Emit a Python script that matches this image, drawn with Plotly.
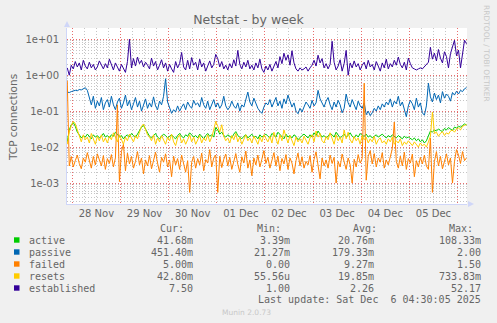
import pandas as pd
import plotly.graph_objects as go

# ---- data: hourly samples, Nov 27 21:30 .. Dec 6 04:30 ----
times = pd.date_range("2025-11-27 21:30", periods=200, freq="h")

series_names = ["active", "passive", "failed", "resets", "established"]
series_colors = ["#00CC00", "#0066B3", "#FF8000", "#FFCC00", "#330099"]

# values in milli-connections (m) for the small series
active_m = [
    14, 30, 42, 48, 38, 26, 22, 18, 21, 19, 23, 20, 17, 22, 19, 21, 18, 20, 24, 19,
    21, 18, 22, 20, 26, 23, 19, 21, 17, 20, 22, 19, 24, 21, 19, 23, 28, 36, 40, 31,
    24, 20, 18, 21, 24, 19, 17, 20, 23, 21, 18, 20, 22, 19, 17, 21, 24, 20, 18, 22,
    20, 25, 22, 19, 21, 18, 23, 20, 17, 21, 24, 20, 22, 19, 35, 30, 23, 26, 21, 19,
    22, 20, 18, 23, 27, 21, 19, 17, 20, 22, 18, 21, 23, 19, 20, 17, 22, 19, 21, 23,
    20, 18, 24, 21, 19, 26, 22, 20, 17, 23, 19, 21, 18, 22, 20, 16, 19, 21, 23, 20,
    18, 22, 19, 25, 21, 28, 23, 19, 21, 18, 20, 24, 22, 19, 26, 21, 18, 20, 23, 19,
    21, 25, 20, 18, 22, 19, 24, 21, 20, 23, 19, 21, 18, 20, 22, 19, 21, 23, 20, 18,
    21, 19, 22, 20, 18, 21, 19, 17, 20, 18, 19, 17, 16, 18, 15, 17, 14, 16, 13, 15,
    22, 28, 26, 30, 28, 32, 29, 27, 33, 30, 35, 32, 29, 36, 34, 38, 36, 40, 44, 41.68,
]

passive_m = [
    340, 330, 350, 360, 380, 370, 400, 390, 420, 450, 380, 230, 150, 260, 120, 190, 140, 240, 110, 170,
    210, 130, 260, 150, 110, 180, 230, 120, 170, 280, 140, 200, 110, 160, 240, 130, 190, 100, 150, 220,
    120, 170, 130, 250, 140, 110, 190, 150, 260, 800, 180, 120, 87, 110, 95, 140, 100, 130, 160, 110,
    180, 140, 120, 200, 150, 170, 130, 240, 150, 120, 190, 110, 160, 210, 130, 170, 120, 150, 260, 140,
    110, 130, 190, 140, 120, 170, 100, 150, 130, 210, 340, 180, 140, 230, 160, 120, 100, 87, 130, 170,
    150, 210, 130, 180, 240, 140, 190, 120, 220, 160, 280, 190, 130, 170, 100, 85, 120, 95, 140, 180,
    150, 120, 200, 140, 170, 380, 220, 160, 130, 190, 240, 150, 110, 180, 130, 200, 150, 90, 120, 300,
    170, 130, 210, 150, 110, 190, 140, 120, 170, 80, 100, 75, 90, 120, 100, 140, 110, 160, 130, 180,
    150, 220, 130, 190, 160, 260, 140, 180, 120, 70, 140, 200, 160, 110, 230, 130, 170, 90, 77, 140,
    600, 250, 180, 320, 210, 280, 170, 350, 230, 300, 260, 190, 330, 280, 360, 300, 380, 350, 420, 451.4,
]

failed_m = [
    700, 3.0, 5.5, 2.8, 4.2, 6.0, 3.5, 2.5, 5.0, 3.8, 7.0, 4.0, 2.6, 5.5, 3.2, 6.5, 4.5, 3.0, 5.8, 2.4,
    4.8, 3.5, 6.2, 2.8, 5.0, 150, 1.1, 7.5, 12.0, 2.2, 6.8, 3.4, 5.5, 2.6, 4.0, 7.5, 3.2, 5.0, 1.8, 4.4,
    3.0, 5.8, 2.5, 4.6, 7.2, 3.6, 2.0, 5.2, 3.8, 6.5, 2.8, 4.4, 1.5, 5.6, 3.2, 4.8, 2.4, 6.0, 3.5, 2.0,
    4.2, 0.55, 3.8, 5.5, 2.6, 4.8, 3.2, 6.8, 2.2, 4.5, 3.6, 8.5, 2.8, 5.0, 6.0, 0.55, 5.6, 2.7, 4.6, 6.4,
    3.0, 5.2, 2.4, 4.0, 6.6, 3.3, 2.0, 5.4, 3.6, 7.8, 2.6, 4.4, 1.6, 5.0, 3.2, 6.0, 2.8, 4.6, 8.0, 3.5,
    5.2, 2.6, 4.4, 7.0, 3.0, 5.6, 2.2, 4.8, 3.4, 6.2, 2.4, 5.0, 3.6, 1.8, 4.2, 6.8, 3.0, 5.4, 2.6, 4.0,
    3.2, 5.8, 2.0, 4.6, 7.4, 3.4, 1.3, 5.0, 3.0, 4.4, 2.6, 6.0, 3.5, 5.2, 1.0, 4.0, 2.8, 6.4, 3.6, 2.4,
    5.0, 3.2, 1.0, 4.6, 2.8, 6.2, 3.6, 4.8, 600, 1.2, 5.5, 8.0, 3.4, 6.6, 2.8, 5.0, 3.8, 7.0, 2.6, 4.4,
    3.2, 6.0, 9.0, 50, 4.0, 2.6, 5.6, 3.0, 7.2, 2.4, 4.8, 3.6, 6.4, 1.5, 4.2, 2.8, 5.2, 3.4, 6.0, 3.0,
    2.4, 18, 0.55, 4.0, 7.5, 3.0, 5.5, 2.5, 4.5, 6.5, 3.2, 5.0, 1.0, 4.0, 8.5, 6.0, 3.5, 7.5, 4.2, 5.0,
]

resets_m = [
    12, 26, 40, 52, 45, 30, 18, 14, 22, 16, 19, 13, 24, 17, 12, 20, 15, 22, 14, 18,
    13, 20, 16, 25, 19, 14, 22, 17, 12, 19, 15, 23, 18, 14, 21, 17, 26, 38, 44, 30,
    22, 19, 15, 22, 12, 18, 14, 21, 16, 12, 19, 15, 23, 14, 11, 18, 22, 13, 17, 12,
    16, 22, 14, 19, 12, 17, 21, 13, 18, 15, 22, 14, 19, 30, 52, 38, 26, 42, 20, 15,
    18, 13, 21, 16, 24, 14, 19, 12, 17, 22, 15, 18, 13, 20, 16, 12, 19, 14, 22, 17,
    14, 20, 13, 26, 17, 12, 22, 15, 30, 18, 13, 21, 16, 11, 19, 14, 17, 13, 20, 15,
    12, 18, 22, 14, 28, 19, 24, 15, 13, 20, 16, 25, 18, 12, 22, 15, 19, 13, 30, 17,
    26, 16, 13, 20, 15, 18, 12, 21, 16, 19, 13, 17, 14, 20, 12, 16, 18, 13, 15, 12,
    17, 14, 19, 12, 15, 13, 17, 11, 14, 12, 15, 13, 11, 14, 12, 10, 13, 11, 12, 10,
    14, 20, 95, 24, 26, 20, 24, 27, 21, 25, 23, 28, 30, 26, 32, 34, 30, 38, 40, 42.8,
]

# established connections, plain units
established = [
    1.6, 1.0, 1.9, 1.5, 2.4, 1.7, 2.2, 1.4, 2.6, 1.8, 1.5, 2.3, 1.6, 2.0, 1.4, 1.7, 2.5, 1.9, 1.5, 2.1,
    1.6, 2.8, 1.9, 1.4, 2.2, 1.7, 1.3, 2.0, 1.5, 1.2, 2.4, 10.0, 1.6, 2.9, 1.8, 3.2, 2.1, 2.6, 1.7, 2.3,
    1.9, 1.5, 3.0, 1.8, 2.4, 1.4, 1.9, 2.7, 1.6, 2.2, 1.3, 2.0, 1.5, 1.2, 2.4, 1.6, 2.1, 4.3, 1.7, 1.4,
    2.6, 1.5, 3.1, 1.9, 2.3, 1.4, 2.8, 1.7, 2.2, 1.3, 1.8, 2.5, 1.6, 2.0, 3.8, 2.9, 1.7, 2.4, 1.5, 1.9,
    1.4, 2.1, 1.6, 2.7, 1.8, 4.9, 2.0, 1.5, 2.3, 1.7, 2.6, 1.5, 1.9, 1.4, 2.2, 1.6, 2.8, 1.5, 1.2, 1.8,
    1.4, 2.0, 1.3, 1.7, 2.4, 1.6, 3.3, 2.1, 4.1, 2.6, 3.7, 1.9, 4.8, 2.2, 1.5, 1.3, 1.6, 1.4, 1.5, 1.7,
    1.3, 1.6, 1.9, 2.6, 1.8, 3.6, 2.2, 2.9, 1.6, 2.1, 1.5, 2.0, 8.8, 2.3, 1.4, 1.8, 2.7, 1.3, 2.1, 4.9,
    1.0, 2.2, 1.6, 2.5, 1.7, 2.1, 1.4, 1.9, 2.3, 1.5, 2.6, 1.7, 2.0, 1.4, 2.4, 1.8, 1.3, 2.2, 1.6, 2.8,
    1.5, 2.1, 1.7, 2.6, 1.9, 3.2, 2.0, 1.6, 2.3, 1.4, 3.0, 2.1, 1.6, 1.5, 1.4, 1.5, 1.6, 1.5, 1.7, 1.9,
    2.3, 6.0, 2.8, 4.1, 2.5, 5.2, 3.0, 2.2, 4.5, 3.3, 1.6, 4.0, 6.5, 9.4, 3.5, 5.0, 1.6, 4.6, 9.4, 7.5,
]

# legend statistics text
min_txt = ["3.39m", "21.27m", "0.00", "55.56u", "1.00"]
avg_txt = ["20.76m", "179.33m", "9.27m", "19.85m", "2.26"]
max_txt = ["108.33m", "2.00", "1.50", "733.83m", "52.17"]
last_update = "Last update: Sat Dec\u00a0\u00a06 04:30:05 2025"

y_tick_vals = [1e-3, 1e-2, 1e-1, 1e0, 1e1]
y_tick_text = ["1e-03", "1e-02", "1e-01", "1e+00", "1e+01"]

values = [
    [v / 1000 for v in active_m],
    [v / 1000 for v in passive_m],
    [v / 1000 for v in failed_m],
    [v / 1000 for v in resets_m],
    list(established),
]
for v in values:
    assert len(v) == len(times)


def si(v):
    """Munin-style value with SI suffix."""
    if v == 0:
        return "0.00"
    for f, s in ((1.0, ""), (1e-3, "m"), (1e-6, "u")):
        if abs(v) >= f:
            return f"{v / f:.2f}{s}"
    return f"{v:.2f}"


cur_txt = [si(v[-1]) for v in values]

# ---- geometry (pixels) ----
W, H = 497, 323
L, R, T, B = 67, 467, 28, 204


def px(x):
    return (x - L) / (R - L)


def py(y):
    return (B - y) / (B - T)


FONT = "#666666"
AXIS = "#CFD6F8"
GRID = "rgba(150,150,150,0.55)"
MGRID = "rgba(225,60,60,0.75)"
DASH = "1px,2px"

fig = go.Figure()
for name, color, v in zip(series_names, series_colors, values):
    fig.add_trace(go.Scatter(
        x=times, y=v, mode="lines", name=name,
        line=dict(color=color, width=1), hoverinfo="skip", showlegend=False,
    ))

minor_log = [k * 10.0 ** e for e in range(-4, 2) for k in range(2, 10)]

fig.update_layout(
    width=W, height=H,
    margin=dict(l=L, r=W - R, t=T, b=H - B, pad=0),
    paper_bgcolor="#F0F0F0",
    plot_bgcolor="#FFFFFF",
    font=dict(family="DejaVu Sans", color=FONT, size=10),
    title=dict(text="Netstat - by week", x=0.5, xref="container", xanchor="center",
               y=1 - 20 / H, yref="container", yanchor="middle",
               font=dict(size=12.5, color=FONT, family="DejaVu Sans")),
    xaxis=dict(
        type="date",
        range=["2025-11-27 21:22", "2025-12-06 04:44"],
        tick0="2025-11-28", dtick=86400000, tickformat="%d %b",
        ticklabelmode="period",
        showgrid=True, gridcolor=MGRID, griddash=DASH, gridwidth=1,
        minor=dict(tick0="2025-11-28", dtick=21600000, showgrid=True,
                   gridcolor=GRID, griddash=DASH, gridwidth=1),
        showline=True, linecolor=AXIS, linewidth=1, zeroline=False,
        ticks="", tickfont=dict(size=10, color=FONT),
    ),
    yaxis=dict(
        type="log",
        range=[-3.583, 1.314],
        tickmode="array", tickvals=y_tick_vals, ticktext=y_tick_text,
        showgrid=True, gridcolor=MGRID, griddash=DASH, gridwidth=1,
        minor=dict(tickmode="array", tickvals=minor_log, showgrid=True,
                   gridcolor=GRID, griddash=DASH, gridwidth=1),
        showline=True, linecolor=AXIS, linewidth=1, zeroline=False,
        ticks="", ticklabelstandoff=5, tickfont=dict(size=10, color=FONT),
    ),
)

# axis arrows
fig.add_shape(type="path", xref="paper", yref="paper",
              path=f"M {px(64)} {py(27)} L {px(70)} {py(27)} L {px(67)} {py(21)} Z",
              fillcolor=AXIS, line=dict(width=0))
fig.add_shape(type="path", xref="paper", yref="paper",
              path=f"M {px(468)} {py(201)} L {px(468)} {py(207)} L {px(474)} {py(204)} Z",
              fillcolor=AXIS, line=dict(width=0))

ann = []
# y-axis title
ann.append(dict(text="TCP connections", x=px(13), y=py(118), xref="paper", yref="paper",
                textangle=-90, showarrow=False, xanchor="center", yanchor="middle",
                font=dict(size=10.5, color=FONT, family="DejaVu Sans")))
# side watermark
ann.append(dict(text="RRDTOOL / TOBI OETIKER", x=px(487), y=py(53), xref="paper", yref="paper",
                textangle=90, showarrow=False, xanchor="center", yanchor="middle",
                font=dict(size=7.5, color="#C8C8C8", family="DejaVu Sans")))
ann.append(dict(text="Munin 2.0.73", x=px(246), y=py(312), xref="paper", yref="paper",
                showarrow=False, xanchor="center", yanchor="middle",
                font=dict(size=7.5, color="#C8C8C8", family="DejaVu Sans")))

MONO = dict(family="DejaVu Sans Mono", size=10, color=FONT)
header_y = 228.5
for label, xl in (("Cur:", 158), ("Min:", 255), ("Avg:", 351), ("Max:", 447)):
    ann.append(dict(text=label, x=px(xl), y=py(header_y), xref="paper", yref="paper",
                    showarrow=False, xanchor="left", yanchor="middle", font=MONO))

row_y = [240, 252, 264, 276, 288]
col_right = [194.5, 291.5, 375.5, 482.5]
for i, name in enumerate(series_names):
    yy = row_y[i]
    fig.add_shape(type="rect", xref="paper", yref="paper",
                  x0=px(14), x1=px(19.5), y0=py(yy + 2.7), y1=py(yy - 2.7),
                  fillcolor=series_colors[i], line=dict(width=0))
    ann.append(dict(text=name, x=px(26.5), y=py(yy), xref="paper", yref="paper",
                    showarrow=False, xanchor="left", yanchor="middle", font=MONO))
    for txt, xr in zip((cur_txt[i], min_txt[i], avg_txt[i], max_txt[i]), col_right):
        ann.append(dict(text=txt, x=px(xr), y=py(yy), xref="paper", yref="paper",
                        showarrow=False, xanchor="right", yanchor="middle", font=MONO))

ann.append(dict(text=last_update, x=px(482.5), y=py(299.5), xref="paper", yref="paper",
                showarrow=False, xanchor="right", yanchor="middle", font=MONO))

fig.update_layout(annotations=ann)

fig.write_html("out.html", config={"displayModeBar": False, "staticPlot": True})
